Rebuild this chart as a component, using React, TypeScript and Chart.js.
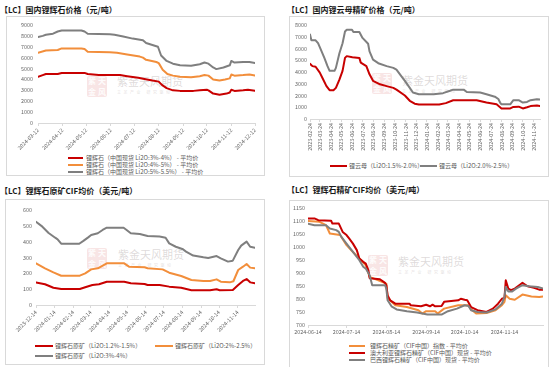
import React, { useEffect, useRef } from 'react';
import { Chart, registerables } from 'chart.js';

Chart.register(...registerables);

const FONT = '"Noto Sans CJK SC", "Noto Sans", sans-serif';
const RED = '#c80000';
const ORANGE = '#f28e3b';
const GRAY = '#7f7f7f';
const TICK_COLOR = '#666666';
const AXIS_COLOR = '#d9d9d9';

type Pt = [string, number];

// ---------- Panel 1: 国内锂辉石价格 ----------
const p1Ticks = ['2024-03-12', '2024-04-12', '2024-05-12', '2024-06-12', '2024-07-12', '2024-08-12', '2024-09-12', '2024-10-12', '2024-11-12', '2024-12-12'];
const p1Names = ['锂辉石（中国现货 Li2O:3%-4%） - 平均价', '锂辉石（中国现货 Li2O:4%-5%） - 平均价', '锂辉石（中国现货 Li2O:5%-5.5%） - 平均价'];
const p1Low: Pt[] = [['2024-03-12', 4250], ['2024-03-18', 4400], ['2024-03-22', 4500], ['2024-04-06', 4500], ['2024-04-11', 4600], ['2024-05-10', 4600], ['2024-05-14', 4500], ['2024-05-28', 4400], ['2024-06-24', 4400], ['2024-07-03', 4300], ['2024-07-17', 4150], ['2024-07-28', 4000], ['2024-08-04', 3900], ['2024-08-12', 3800], ['2024-08-16', 3500], ['2024-08-22', 3200], ['2024-08-30', 3000], ['2024-09-08', 2950], ['2024-09-25', 2950], ['2024-10-03', 3000], ['2024-10-12', 3050], ['2024-10-14', 3000], ['2024-10-20', 2700], ['2024-10-28', 2600], ['2024-11-06', 2700], ['2024-11-10', 2800], ['2024-11-12', 3050], ['2024-11-16', 2950], ['2024-11-27', 3000], ['2024-12-03', 3050], ['2024-12-12', 2950]];
const p1Mid: Pt[] = [['2024-03-12', 6450], ['2024-03-22', 6650], ['2024-04-06', 6700], ['2024-04-11', 6850], ['2024-05-06', 6850], ['2024-05-10', 6800], ['2024-05-14', 6550], ['2024-06-11', 6500], ['2024-06-20', 6450], ['2024-07-03', 6300], ['2024-07-19', 6100], ['2024-07-23', 6000], ['2024-07-27', 5800], ['2024-08-09', 5600], ['2024-08-12', 5500], ['2024-08-17', 4900], ['2024-08-23', 4500], ['2024-08-30', 4350], ['2024-09-08', 4250], ['2024-09-22', 4200], ['2024-10-03', 4300], ['2024-10-09', 4400], ['2024-10-14', 4350], ['2024-10-20', 4000], ['2024-10-28', 3900], ['2024-11-04', 4000], ['2024-11-10', 4100], ['2024-11-12', 4450], ['2024-11-16', 4350], ['2024-11-27', 4400], ['2024-12-05', 4450], ['2024-12-12', 4350]];
const p1High: Pt[] = [['2024-03-12', 7900], ['2024-03-18', 8000], ['2024-03-22', 8100], ['2024-03-31', 8200], ['2024-04-06', 8400], ['2024-04-11', 8500], ['2024-05-06', 8500], ['2024-05-10', 8400], ['2024-05-14', 8200], ['2024-06-11', 8150], ['2024-06-17', 8100], ['2024-06-28', 7950], ['2024-07-10', 7750], ['2024-07-23', 7600], ['2024-07-27', 7350], ['2024-08-11', 7000], ['2024-08-15', 6200], ['2024-08-22', 5700], ['2024-08-30', 5450], ['2024-09-08', 5300], ['2024-09-22', 5250], ['2024-10-03', 5400], ['2024-10-09', 5550], ['2024-10-14', 5450], ['2024-10-20', 5100], ['2024-10-24', 4950], ['2024-11-02', 5100], ['2024-11-10', 5300], ['2024-11-12', 5700], ['2024-11-16', 5550], ['2024-11-27', 5600], ['2024-12-05', 5600], ['2024-12-12', 5500]];

// ---------- Panel 2: 国内锂云母精矿价格 ----------
const p2Ticks = ['2023-02-24', '2023-03-24', '2023-04-24', '2023-05-24', '2023-06-24', '2023-07-24', '2023-08-24', '2023-09-24', '2023-10-24', '2023-11-24', '2023-12-24', '2024-01-24', '2024-02-24', '2024-03-24', '2024-04-24', '2024-05-24', '2024-06-24', '2024-07-24', '2024-08-24', '2024-09-24', '2024-10-24', '2024-11-24'];
const p2Names = ['锂云母（Li2O:1.5%-2.0%）', '锂云母（Li2O:2.0%-2.5%）'];
const p2Low: Pt[] = [['2023-02-24', 4700], ['2023-03-03', 4500], ['2023-03-12', 4450], ['2023-03-24', 3950], ['2023-04-02', 3400], ['2023-04-12', 2800], ['2023-04-21', 2450], ['2023-05-02', 2450], ['2023-05-09', 2650], ['2023-05-19', 3350], ['2023-05-28', 4100], ['2023-06-04', 5200], ['2023-06-09', 5350], ['2023-06-25', 5250], ['2023-07-15', 5200], ['2023-07-19', 4800], ['2023-08-04', 4500], ['2023-08-13', 3800], ['2023-08-23', 3250], ['2023-09-12', 2950], ['2023-10-01', 2800], ['2023-10-20', 2650], ['2023-10-29', 2500], ['2023-11-22', 2000], ['2023-12-06', 1550], ['2023-12-20', 1300], ['2024-01-01', 1230], ['2024-02-28', 1230], ['2024-03-18', 1350], ['2024-04-08', 1600], ['2024-06-14', 1600], ['2024-07-12', 1400], ['2024-08-10', 1250], ['2024-08-24', 900], ['2024-09-18', 900], ['2024-09-27', 1030], ['2024-10-12', 1050], ['2024-10-24', 900], ['2024-11-05', 1000], ['2024-11-15', 1100], ['2024-12-03', 1150], ['2024-12-12', 1100]];
const p2High: Pt[] = [['2023-02-24', 7200], ['2023-02-28', 6700], ['2023-03-12', 6700], ['2023-03-19', 6450], ['2023-03-27', 5900], ['2023-04-06', 5200], ['2023-04-15', 4500], ['2023-04-21', 4100], ['2023-05-05', 4100], ['2023-05-09', 4350], ['2023-05-19', 5600], ['2023-05-28', 6450], ['2023-06-04', 7450], ['2023-06-09', 7600], ['2023-06-24', 7600], ['2023-06-28', 7400], ['2023-07-15', 7400], ['2023-07-24', 6900], ['2023-08-09', 6400], ['2023-08-13', 5750], ['2023-08-23', 5050], ['2023-09-07', 4750], ['2023-10-01', 4500], ['2023-10-20', 4350], ['2023-10-29', 4200], ['2023-11-08', 3800], ['2023-11-22', 3250], ['2023-12-06', 2650], ['2023-12-15', 2250], ['2024-01-01', 2100], ['2024-02-12', 2100], ['2024-03-10', 2200], ['2024-03-30', 2400], ['2024-04-08', 2500], ['2024-05-08', 2500], ['2024-05-17', 2300], ['2024-06-24', 2250], ['2024-07-12', 2100], ['2024-08-05', 1900], ['2024-08-15', 1700], ['2024-08-20', 1400], ['2024-08-24', 1250], ['2024-09-18', 1250], ['2024-09-27', 1600], ['2024-10-12', 1600], ['2024-10-24', 1400], ['2024-11-05', 1450], ['2024-11-15', 1600], ['2024-12-03', 1680], ['2024-12-12', 1650]];

// ---------- Panel 3: 锂辉石原矿CIF均价 ----------
const p3Ticks = ['2023-12-14', '2024-01-14', '2024-02-14', '2024-03-14', '2024-04-14', '2024-05-14', '2024-06-14', '2024-07-14', '2024-08-14', '2024-09-14', '2024-10-14', '2024-11-14'];
const p3Names = ['锂辉石原矿（Li2O:1.2%-1.5%）', '锂辉石原矿（Li2O:2%-2.5%）', '锂辉石原矿（Li2O:3%-4%）'];
const p3Low: Pt[] = [['2023-12-14', 143], ['2023-12-29', 131], ['2024-01-12', 109], ['2024-01-25', 101], ['2024-02-25', 101], ['2024-03-05', 112], ['2024-03-17', 126], ['2024-03-28', 131], ['2024-04-10', 147], ['2024-05-09', 147], ['2024-05-20', 137], ['2024-06-12', 133], ['2024-06-17', 126], ['2024-07-07', 126], ['2024-07-23', 116], ['2024-08-12', 109], ['2024-08-29', 93], ['2024-09-29', 93], ['2024-10-10', 99], ['2024-10-15', 93], ['2024-11-06', 95], ['2024-11-15', 126], ['2024-11-23', 152], ['2024-11-29', 164], ['2024-12-05', 143], ['2024-12-13', 137]];
const p3Mid: Pt[] = [['2023-12-14', 263], ['2023-12-29', 231], ['2024-01-12', 206], ['2024-01-25', 185], ['2024-02-25', 185], ['2024-03-05', 200], ['2024-03-15', 225], ['2024-03-26', 232], ['2024-04-10', 263], ['2024-05-09', 263], ['2024-05-17', 242], ['2024-06-12', 238], ['2024-06-17', 232], ['2024-07-12', 225], ['2024-07-23', 204], ['2024-08-12', 183], ['2024-08-29', 158], ['2024-09-18', 152], ['2024-09-29', 152], ['2024-10-10', 162], ['2024-10-17', 147], ['2024-11-01', 143], ['2024-11-07', 150], ['2024-11-15', 221], ['2024-11-23', 242], ['2024-11-29', 259], ['2024-12-05', 236], ['2024-12-13', 232]];
const p3High: Pt[] = [['2023-12-14', 525], ['2023-12-23', 500], ['2024-01-04', 455], ['2024-01-15', 425], ['2024-01-19', 415], ['2024-01-25', 387], ['2024-02-24', 387], ['2024-03-02', 405], ['2024-03-10', 427], ['2024-03-15', 442], ['2024-03-26', 453], ['2024-04-03', 474], ['2024-04-10', 488], ['2024-05-08', 488], ['2024-05-13', 474], ['2024-05-20', 453], ['2024-06-04', 448], ['2024-06-17', 436], ['2024-07-07', 432], ['2024-07-17', 425], ['2024-07-23', 389], ['2024-08-03', 368], ['2024-08-15', 352], ['2024-08-20', 337], ['2024-09-01', 312], ['2024-09-18', 301], ['2024-09-26', 297], ['2024-10-10', 309], ['2024-10-17', 295], ['2024-10-29', 274], ['2024-11-06', 280], ['2024-11-15', 347], ['2024-11-20', 375], ['2024-11-29', 400], ['2024-12-05', 368], ['2024-12-13', 362]];

// ---------- Panel 4: 锂辉石精矿CIF均价 ----------
const p4Ticks = ['2024-06-14', '2024-07-14', '2024-08-14', '2024-09-14', '2024-10-14', '2024-11-14'];
const p4Names = ['锂辉石精矿（CIF中国）指数 - 平均价', '澳大利亚锂辉石精矿（CIF中国）现货 - 平均价', '巴西锂辉石精矿（CIF中国）现货 - 平均价'];
const p4Index: Pt[] = [['2024-06-14', 1100], ['2024-06-23', 1097], ['2024-06-28', 1084], ['2024-07-01', 1052], ['2024-07-09', 1046], ['2024-07-14', 1007], ['2024-07-19', 981], ['2024-07-24', 956], ['2024-07-29', 930], ['2024-08-01', 885], ['2024-08-14', 859], ['2024-08-15', 804], ['2024-08-21', 776], ['2024-08-30', 769], ['2024-09-08', 757], ['2024-09-11', 744], ['2024-09-14', 753], ['2024-09-21', 753], ['2024-09-23', 744], ['2024-09-28', 763], ['2024-10-09', 776], ['2024-10-17', 776], ['2024-10-19', 760], ['2024-10-23', 744], ['2024-10-31', 746], ['2024-11-07', 757], ['2024-11-12', 776], ['2024-11-14', 789], ['2024-11-15', 814], ['2024-11-18', 801], ['2024-11-22', 797], ['2024-11-28', 817], ['2024-12-05', 810], ['2024-12-11', 808], ['2024-12-14', 810]];
const p4Aus: Pt[] = [['2024-06-14', 1110], ['2024-06-19', 1110], ['2024-06-22', 1103], ['2024-07-02', 1101], ['2024-07-03', 1090], ['2024-07-08', 1090], ['2024-07-10', 1069], ['2024-07-11', 1058], ['2024-07-14', 1046], ['2024-07-16', 1033], ['2024-07-19', 1013], ['2024-07-22', 988], ['2024-07-24', 956], ['2024-07-27', 943], ['2024-07-29', 936], ['2024-07-31', 911], ['2024-08-01', 880], ['2024-08-09', 876], ['2024-08-13', 862], ['2024-08-14', 853], ['2024-08-15', 814], ['2024-08-17', 795], ['2024-08-21', 782], ['2024-09-01', 782], ['2024-09-02', 776], ['2024-09-10', 772], ['2024-09-14', 778], ['2024-09-17', 772], ['2024-09-19', 778], ['2024-09-21', 772], ['2024-09-26', 773], ['2024-09-28', 789], ['2024-10-09', 795], ['2024-10-11', 801], ['2024-10-14', 797], ['2024-10-16', 795], ['2024-10-19', 769], ['2024-10-24', 757], ['2024-10-31', 750], ['2024-11-05', 763], ['2024-11-09', 782], ['2024-11-12', 801], ['2024-11-14', 804], ['2024-11-15', 872], ['2024-11-17', 840], ['2024-11-19', 834], ['2024-11-22', 840], ['2024-11-26', 855], ['2024-11-28', 862], ['2024-12-02', 849], ['2024-12-07', 843], ['2024-12-11', 836], ['2024-12-14', 836]];
const p4Bra: Pt[] = [['2024-06-14', 1090], ['2024-06-19', 1084], ['2024-06-28', 1084], ['2024-07-01', 1071], ['2024-07-06', 1065], ['2024-07-08', 1058], ['2024-07-10', 1039], ['2024-07-14', 1013], ['2024-07-19', 981], ['2024-07-24', 949], ['2024-07-27', 924], ['2024-07-29', 917], ['2024-08-01', 891], ['2024-08-03', 853], ['2024-08-13', 853], ['2024-08-14', 840], ['2024-08-15', 795], ['2024-08-18', 772], ['2024-08-22', 760], ['2024-08-30', 753], ['2024-09-07', 748], ['2024-09-15', 740], ['2024-09-26', 740], ['2024-10-01', 753], ['2024-10-08', 763], ['2024-10-14', 776], ['2024-10-17', 773], ['2024-10-19', 757], ['2024-10-24', 750], ['2024-10-31', 748], ['2024-11-07', 760], ['2024-11-12', 782], ['2024-11-14', 808], ['2024-11-15', 846], ['2024-11-17', 829], ['2024-11-20', 829], ['2024-11-23', 840], ['2024-11-28', 853], ['2024-12-03', 849], ['2024-12-10', 846], ['2024-12-14', 840]];

const dayOf = (s: string) => Date.UTC(+s.slice(0, 4), +s.slice(5, 7) - 1, +s.slice(8, 10)) / 86400000;

interface Series { label: string; color: string; data: Pt[] }
interface LegendItem { x: number; y: number; idx: number }
interface Spec {
  title: string; titleX: number; titleY: number;
  box: number[];
  canvas: number[];
  plot: number[];
  yMin: number; yMax: number; yStep: number; yPad: number;
  xMin: string; xMax: string; ticks: string[]; rotation: number;
  series: Series[];
  legend: LegendItem[]; lineW: number; gap: number;
  wm: number[];
}

const specs: Spec[] = [
  {
    title: '【LC】国内锂辉石价格（元/吨）', titleX: 0, titleY: 6,
    box: [6, 16, 259, 160], canvas: [6, 16, 259, 134], plot: [38, 25, 255, 123],
    yMin: 0, yMax: 9000, yStep: 1000, yPad: 5,
    xMin: '2024-03-12', xMax: '2024-12-12', ticks: p1Ticks, rotation: 45,
    series: [
      { label: p1Names[0], color: RED, data: p1Low },
      { label: p1Names[1], color: ORANGE, data: p1Mid },
      { label: p1Names[2], color: GRAY, data: p1High },
    ],
    legend: [{ x: 68, y: 158, idx: 0 }, { x: 68, y: 165, idx: 1 }, { x: 68, y: 172, idx: 2 }], lineW: 15, gap: 3,
    wm: [87, 76, 117, 81],
  },
  {
    title: '【LC】国内锂云母精矿价格（元/吨）', titleX: 287, titleY: 6,
    box: [289, 16, 260, 161], canvas: [289, 16, 260, 144], plot: [310, 25, 540, 119],
    yMin: 0, yMax: 8000, yStep: 1000, yPad: 3,
    xMin: '2023-02-24', xMax: '2024-12-12', ticks: p2Ticks, rotation: 90,
    series: [
      { label: p2Names[0], color: RED, data: p2Low },
      { label: p2Names[1], color: GRAY, data: p2High },
    ],
    legend: [{ x: 330, y: 166, idx: 0 }, { x: 420, y: 166, idx: 1 }], lineW: 17, gap: 2,
    wm: [372, 73, 402, 80],
  },
  {
    title: '【LC】锂辉石原矿CIF均价（美元/吨）', titleX: 0, titleY: 187,
    box: [5, 199, 260, 166], canvas: [5, 199, 260, 140], plot: [36, 210, 255, 305],
    yMin: 0, yMax: 600, yStep: 100, yPad: 4,
    xMin: '2023-12-14', xMax: '2024-12-13', ticks: p3Ticks, rotation: 45,
    series: [
      { label: p3Names[0], color: RED, data: p3Low },
      { label: p3Names[1], color: ORANGE, data: p3Mid },
      { label: p3Names[2], color: GRAY, data: p3High },
    ],
    legend: [{ x: 35, y: 346, idx: 0 }, { x: 155, y: 346, idx: 1 }, { x: 35, y: 356, idx: 2 }], lineW: 18, gap: 2,
    wm: [87, 248, 118, 254],
  },
  {
    title: '【LC】锂辉石精矿CIF均价（美元/吨）', titleX: 287, titleY: 186,
    box: [289, 200, 260, 170], canvas: [289, 200, 260, 140], plot: [308, 208, 543, 325],
    yMin: 700, yMax: 1150, yStep: 50, yPad: 3,
    xMin: '2024-06-14', xMax: '2024-12-14', ticks: p4Ticks, rotation: 0,
    series: [
      { label: p4Names[0], color: ORANGE, data: p4Index },
      { label: p4Names[1], color: RED, data: p4Aus },
      { label: p4Names[2], color: GRAY, data: p4Bra },
    ],
    legend: [{ x: 349, y: 346, idx: 0 }, { x: 349, y: 353, idx: 1 }, { x: 349, y: 360, idx: 2 }], lineW: 16, gap: 5,
    wm: [368, 255, 398, 261],
  },
];

function buildConfig(s: Spec): any {
  const [cx, cy, cw, ch] = s.canvas;
  const left = s.plot[0] - cx;
  const top = s.plot[1] - cy;
  const right = s.plot[2] - cx;
  const bottom = s.plot[3] - cy;
  const tickDays = s.ticks.map(dayOf);
  const labelOf = new Map<number, string>(tickDays.map((d, i) => [d, s.ticks[i]] as [number, string]));
  const n = s.series.length;
  const tickFont = { family: FONT, size: 5.4 };
  return {
    type: 'line',
    data: {
      datasets: s.series.map((sr, i) => ({
        label: sr.label,
        data: sr.data.map(([d, v]) => ({ x: dayOf(d), y: v })),
        borderColor: sr.color,
        backgroundColor: sr.color,
        borderWidth: 2,
        pointRadius: 0,
        tension: 0,
        order: n - 1 - i,
        borderJoinStyle: 'round',
        borderCapStyle: 'round',
      })),
    },
    options: {
      responsive: false,
      animation: false,
      devicePixelRatio: 1,
      layout: { padding: { left: 0, top, right: cw - right, bottom: 0 } },
      plugins: { legend: { display: false }, tooltip: { enabled: false }, title: { display: false } },
      scales: {
        x: {
          type: 'linear',
          min: dayOf(s.xMin),
          max: dayOf(s.xMax),
          afterBuildTicks: (sc: any) => { sc.ticks = tickDays.map((v) => ({ value: v })); },
          afterFit: (sc: any) => { sc.height = ch - bottom; sc.paddingLeft = 0; sc.paddingRight = 0; },
          ticks: {
            autoSkip: false,
            minRotation: s.rotation,
            maxRotation: s.rotation,
            padding: 1,
            color: TICK_COLOR,
            font: tickFont,
            callback: (v: number) => labelOf.get(v) ?? '',
          },
          grid: { display: true, drawOnChartArea: false, drawTicks: true, tickLength: 3, color: AXIS_COLOR },
          border: { display: true, color: AXIS_COLOR },
        },
        y: {
          min: s.yMin,
          max: s.yMax,
          afterFit: (sc: any) => { sc.width = left; sc.paddingTop = 0; sc.paddingBottom = 0; },
          ticks: { stepSize: s.yStep, padding: s.yPad, color: TICK_COLOR, font: tickFont, callback: (v: number) => String(v) },
          grid: { display: false, drawTicks: false },
          border: { display: false },
        },
      },
    },
  };
}

function Watermark({ wm }: { wm: number[] }) {
  const [lx, ly, tx, ty] = wm;
  return (
    <>
      <div style={{ position: 'absolute', left: lx, top: ly, width: 20, height: 21, background: 'rgba(226,150,150,0.25)', borderRadius: 2, color: 'rgba(255,255,255,0.9)', font: `bold 8px ${FONT}`, lineHeight: '10px', display: 'grid', gridTemplateColumns: '1fr 1fr', textAlign: 'center', overflow: 'hidden' }}>
        <span>紫</span><span>天</span><span>金</span><span>风</span>
      </div>
      <div style={{ position: 'absolute', left: tx, top: ty - 6, font: `11px ${FONT}`, lineHeight: '12px', color: 'rgba(160,150,150,0.35)', whiteSpace: 'nowrap' }}>紫金天风期货</div>
      <div style={{ position: 'absolute', left: tx, top: ty + 9, font: `4px ${FONT}`, lineHeight: '5px', letterSpacing: '2.5px', color: 'rgba(160,150,150,0.35)', whiteSpace: 'nowrap' }}>立足产业 研究驱动</div>
    </>
  );
}

function Panel({ spec }: { spec: Spec }) {
  const ref = useRef<HTMLCanvasElement>(null);
  useEffect(() => {
    const chart = new Chart(ref.current as HTMLCanvasElement, buildConfig(spec));
    return () => chart.destroy();
  }, [spec]);
  const [bx, by, bw, bh] = spec.box;
  const [cx, cy, cw, ch] = spec.canvas;
  return (
    <>
      <div style={{ position: 'absolute', left: spec.titleX, top: spec.titleY, font: `bold 8px ${FONT}`, lineHeight: '8px', color: '#1a1a1a', whiteSpace: 'nowrap' }}>{spec.title}</div>
      <div style={{ position: 'absolute', left: bx, top: by, width: bw, height: bh, border: '1px solid #d9d9d9', boxSizing: 'border-box' }} />
      <Watermark wm={spec.wm} />
      <canvas ref={ref} width={cw} height={ch} style={{ position: 'absolute', left: cx, top: cy, width: cw, height: ch }} />
      {spec.legend.map((it, k) => {
        const sr = spec.series[it.idx];
        return (
          <React.Fragment key={k}>
            <div style={{ position: 'absolute', left: it.x, top: it.y - 1, width: spec.lineW, height: 2, background: sr.color }} />
            <div style={{ position: 'absolute', left: it.x + spec.lineW + spec.gap, top: it.y - 4, font: `6px ${FONT}`, lineHeight: '8px', color: '#595959', whiteSpace: 'nowrap' }}>{sr.label}</div>
          </React.Fragment>
        );
      })}
    </>
  );
}

export default function App() {
  return (
    <div style={{ position: 'fixed', left: 0, top: 0, width: 550, height: 367, background: '#ffffff', overflow: 'hidden' }}>
      {specs.map((s, i) => <Panel key={i} spec={s} />)}
    </div>
  );
}
